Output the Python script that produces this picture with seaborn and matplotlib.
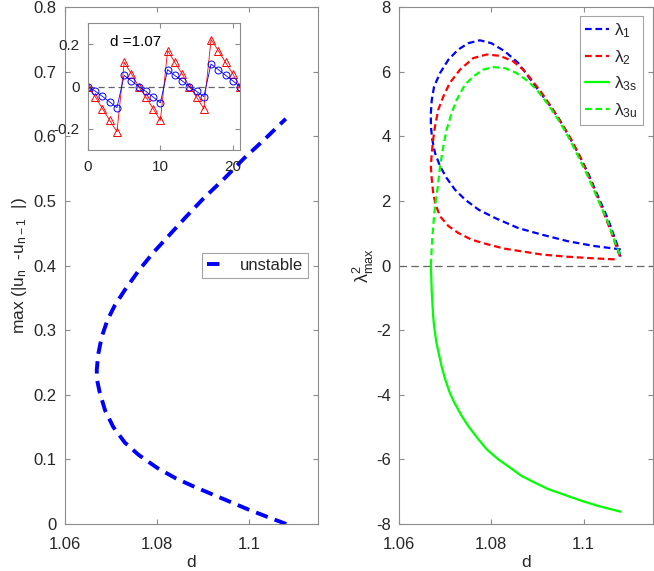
import matplotlib
matplotlib.use('Agg')
import matplotlib.pyplot as plt
import seaborn as sns

# Amplitude along the unstable branch (left panel)
d_amp = [1.1081, 1.1040, 1.1000, 1.0960, 1.0920, 1.0880, 1.0840, 1.0800, 1.0760,
         1.0730, 1.0705, 1.0687, 1.0675, 1.0670, 1.0669, 1.0672, 1.0680, 1.0692,
         1.0708, 1.0730, 1.0760, 1.0792, 1.0828, 1.0864, 1.0900, 1.0947, 1.0988,
         1.1035, 1.1080]
amp = [0.000, 0.011, 0.022, 0.034, 0.046, 0.058, 0.071, 0.087, 0.107,
       0.126, 0.150, 0.176, 0.205, 0.222, 0.238, 0.262, 0.290, 0.315,
       0.338, 0.362, 0.392, 0.420, 0.448, 0.476, 0.503, 0.535, 0.565,
       0.596, 0.627]

# Inset: profile at d = 1.07
site = list(range(22))
prof_red = [0, -0.048, -0.105, -0.16, -0.214, 0.114, 0.06, 0, -0.05, -0.105, -0.16,
            0.17, 0.114, 0.06, 0, -0.05, -0.105, 0.222, 0.17, 0.114, 0.06, 0]
prof_blue = [0, -0.022, -0.047, -0.073, -0.1, 0.052, 0.027, 0, -0.023, -0.05, -0.077,
             0.08, 0.052, 0.027, 0, -0.023, -0.048, 0.106, 0.08, 0.053, 0.027, 0]

# Eigenvalues along the branch (right panel)
d_lam1 = [1.1080, 1.1024, 1.0966, 1.0908, 1.0858, 1.0808, 1.0772, 1.0743, 1.0721,
          1.0703, 1.0689, 1.0678, 1.0672, 1.0669, 1.0669, 1.0671, 1.0676, 1.0689,
          1.0707, 1.0728, 1.0750, 1.0775, 1.0800, 1.0829, 1.0858, 1.0880, 1.0901,
          1.0923, 1.0945, 1.0966, 1.0988, 1.1009, 1.1031, 1.1053, 1.1071, 1.1080]
lam1 = [0.50, 0.60, 0.75, 0.96, 1.16, 1.47, 1.73, 2.04, 2.35,
        2.71, 3.07, 3.48, 3.90, 4.31, 4.72, 5.13, 5.54, 5.96,
        6.37, 6.68, 6.88, 6.97, 6.88, 6.63, 6.27, 5.85, 5.44,
        5.03, 4.57, 4.05, 3.48, 2.87, 2.14, 1.42, 0.70, 0.27]

d_lam2 = [1.1067, 1.1024, 1.0966, 1.0909, 1.0865, 1.0829, 1.0793, 1.0757, 1.0728,
          1.0707, 1.0689, 1.0679, 1.0674, 1.0671, 1.0669, 1.0671, 1.0674, 1.0678,
          1.0685, 1.0696, 1.0710, 1.0732, 1.0761, 1.0790, 1.0818, 1.0847, 1.0869,
          1.0887, 1.0909, 1.0930, 1.0952, 1.0973, 1.0995, 1.1017, 1.1038, 1.1060,
          1.1078]
lam2 = [0.19, 0.22, 0.27, 0.34, 0.44, 0.52, 0.65, 0.80, 1.01,
        1.22, 1.52, 1.89, 2.25, 2.66, 3.07, 3.48, 3.90, 4.31,
        4.82, 5.23, 5.65, 6.06, 6.42, 6.53, 6.49, 6.32, 6.06,
        5.75, 5.34, 4.90, 4.41, 3.90, 3.28, 2.56, 1.83, 1.01,
        0.29]

d_lam3s = [1.0669, 1.0671, 1.0674, 1.0676, 1.0681, 1.0689, 1.0692, 1.0700, 1.0710,
           1.0720, 1.0736, 1.0750, 1.0772, 1.0790, 1.0815, 1.0840, 1.0865, 1.0894,
           1.0923, 1.0955, 1.0995, 1.1031, 1.1080]
lam3s = [0, -0.85, -1.57, -1.88, -2.39, -2.91, -3.11, -3.52, -3.94,
         -4.25, -4.66, -4.97, -5.38, -5.69, -6.00, -6.25, -6.51, -6.72,
         -6.92, -7.08, -7.28, -7.44, -7.62]

d_lam3u = [1.0669, 1.0671, 1.0674, 1.0678, 1.0684, 1.0689, 1.0696, 1.0703, 1.0714,
           1.0725, 1.0743, 1.0761, 1.0782, 1.0804, 1.0829, 1.0854, 1.0880, 1.0901,
           1.0923, 1.0945, 1.0966, 1.0988, 1.1009, 1.1031, 1.1053, 1.1071, 1.1081]
lam3u = [0, 0.60, 1.22, 1.83, 2.45, 3.07, 3.69, 4.20, 4.72,
         5.13, 5.60, 5.85, 6.06, 6.14, 6.11, 5.96, 5.70, 5.39,
         4.98, 4.51, 4.00, 3.38, 2.76, 2.04, 1.32, 0.60, 0.24]

sns.set_theme(style='white')
plt.rcParams['font.family'] = ['Liberation Sans', 'DejaVu Sans']
plt.rcParams['mathtext.default'] = 'regular'
plt.rcParams['axes.unicode_minus'] = False
plt.rcParams['axes.edgecolor'] = '#8c8c8c'
plt.rcParams['axes.linewidth'] = 0.8
plt.rcParams['xtick.color'] = '#8c8c8c'
plt.rcParams['ytick.color'] = '#8c8c8c'
plt.rcParams['xtick.labelcolor'] = '#262626'
plt.rcParams['ytick.labelcolor'] = '#262626'
plt.rcParams['axes.labelcolor'] = '#262626'

fig = plt.figure(figsize=(6.54, 5.71), dpi=100)
ax1 = fig.add_axes([65 / 654, 47 / 571, 253 / 654, 517 / 571])
ax2 = fig.add_axes([399 / 654, 47 / 571, 254 / 654, 517 / 571])


def style_axes(ax, fs, xpad=9.5, ypad=6):
    ax.tick_params(direction='in', length=3.5, width=0.8, labelsize=fs,
                   top=True, right=True, bottom=True, left=True)
    ax.tick_params(axis='x', pad=xpad)
    ax.tick_params(axis='y', pad=ypad)
    for s in ax.spines.values():
        s.set_visible(True)


# Left panel
sns.lineplot(x=d_amp, y=amp, ax=ax1, sort=False, estimator=None, color='blue',
             linewidth=2.8, linestyle=(0, (3.2, 1.9)), label='unstable')
ax1.set_xlim(1.06, 1.115)
ax1.set_ylim(0, 0.8)
ax1.set_xticks([1.06, 1.08, 1.1])
ax1.set_xticklabels(['1.06', '1.08', '1.1'])
ax1.set_yticks([0, 0.1, 0.2, 0.3, 0.4, 0.5, 0.6, 0.7, 0.8])
ax1.set_yticklabels(['0', '0.1', '0.2', '0.3', '0.4', '0.5', '0.6', '0.7', '0.8'])
ax1.set_xlabel('d', fontsize=12.5, labelpad=2)
ax1.set_ylabel('max (|u$_{n}$  -u$_{n-1}$  |)', fontsize=12.5, labelpad=3)
style_axes(ax1, 12)
leg1 = ax1.legend(loc='center right', bbox_to_anchor=(0.962, 0.5), fontsize=12,
                  frameon=True, fancybox=False, handlelength=1.1, borderpad=0.3,
                  handletextpad=0.9, borderaxespad=0)
leg1.get_frame().set_edgecolor('#8c8c8c')
leg1.get_frame().set_linewidth(0.8)

# Inset
axi = fig.add_axes([88 / 654, (571 - 150) / 571, 152 / 654, 127 / 571])
axi.axhline(0, color='#666666', linewidth=0.9, linestyle=(0, (5, 3)))
sns.lineplot(x=site, y=prof_red, ax=axi, sort=False, estimator=None, color='red',
             linewidth=0.6, marker='^', markersize=5.5, markerfacecolor='none',
             markeredgecolor='red', markeredgewidth=0.7)
sns.lineplot(x=site, y=prof_blue, ax=axi, sort=False, estimator=None, color='blue',
             linewidth=0.6, marker='o', markersize=5, markerfacecolor='none',
             markeredgecolor='blue', markeredgewidth=0.7)
axi.set_xlim(0, 21)
axi.set_ylim(-0.3, 0.3)
axi.set_xticks([0, 10, 20])
axi.set_yticks([-0.2, 0, 0.2])
axi.set_yticklabels(['-0.2', '0', '0.2'])
axi.text(3.1, 0.212, 'd =1.07', fontsize=11, va='center', ha='left', color='black')
style_axes(axi, 11, xpad=7, ypad=6)

# Right panel
ax2.axhline(0, color='#666666', linewidth=0.9, linestyle=(0, (6, 3.5)))
dash = (0, (3, 1.7))
sns.lineplot(x=d_lam1, y=lam1, ax=ax2, sort=False, estimator=None, color='blue',
             linewidth=1.6, linestyle=dash, label='$\\lambda_{1}$')
sns.lineplot(x=d_lam2, y=lam2, ax=ax2, sort=False, estimator=None, color='red',
             linewidth=1.6, linestyle=dash, label='$\\lambda_{2}$')
sns.lineplot(x=d_lam3s, y=lam3s, ax=ax2, sort=False, estimator=None, color='#00ff00',
             linewidth=1.6, label='$\\lambda_{3s}$')
sns.lineplot(x=d_lam3u, y=lam3u, ax=ax2, sort=False, estimator=None, color='#00ff00',
             linewidth=1.6, linestyle=dash, label='$\\lambda_{3u}$')
ax2.set_xlim(1.06, 1.115)
ax2.set_ylim(-8, 8)
ax2.set_xticks([1.06, 1.08, 1.1])
ax2.set_xticklabels(['1.06', '1.08', '1.1'])
ax2.set_yticks(list(range(-8, 9, 2)))
ax2.set_xlabel('d', fontsize=12.5, labelpad=2)
ax2.set_ylabel('$\\lambda^{2}_{max}$', fontsize=13, labelpad=0)
style_axes(ax2, 12)
leg2 = ax2.legend(loc='upper right', bbox_to_anchor=(0.961, 0.982), fontsize=12.5,
                  frameon=True, fancybox=False, handlelength=1.4, borderpad=0.3,
                  handletextpad=0.3, labelspacing=0.45, borderaxespad=0)
leg2.get_frame().set_edgecolor('#8c8c8c')
leg2.get_frame().set_linewidth(0.8)

fig.savefig('out.png', dpi=100)
